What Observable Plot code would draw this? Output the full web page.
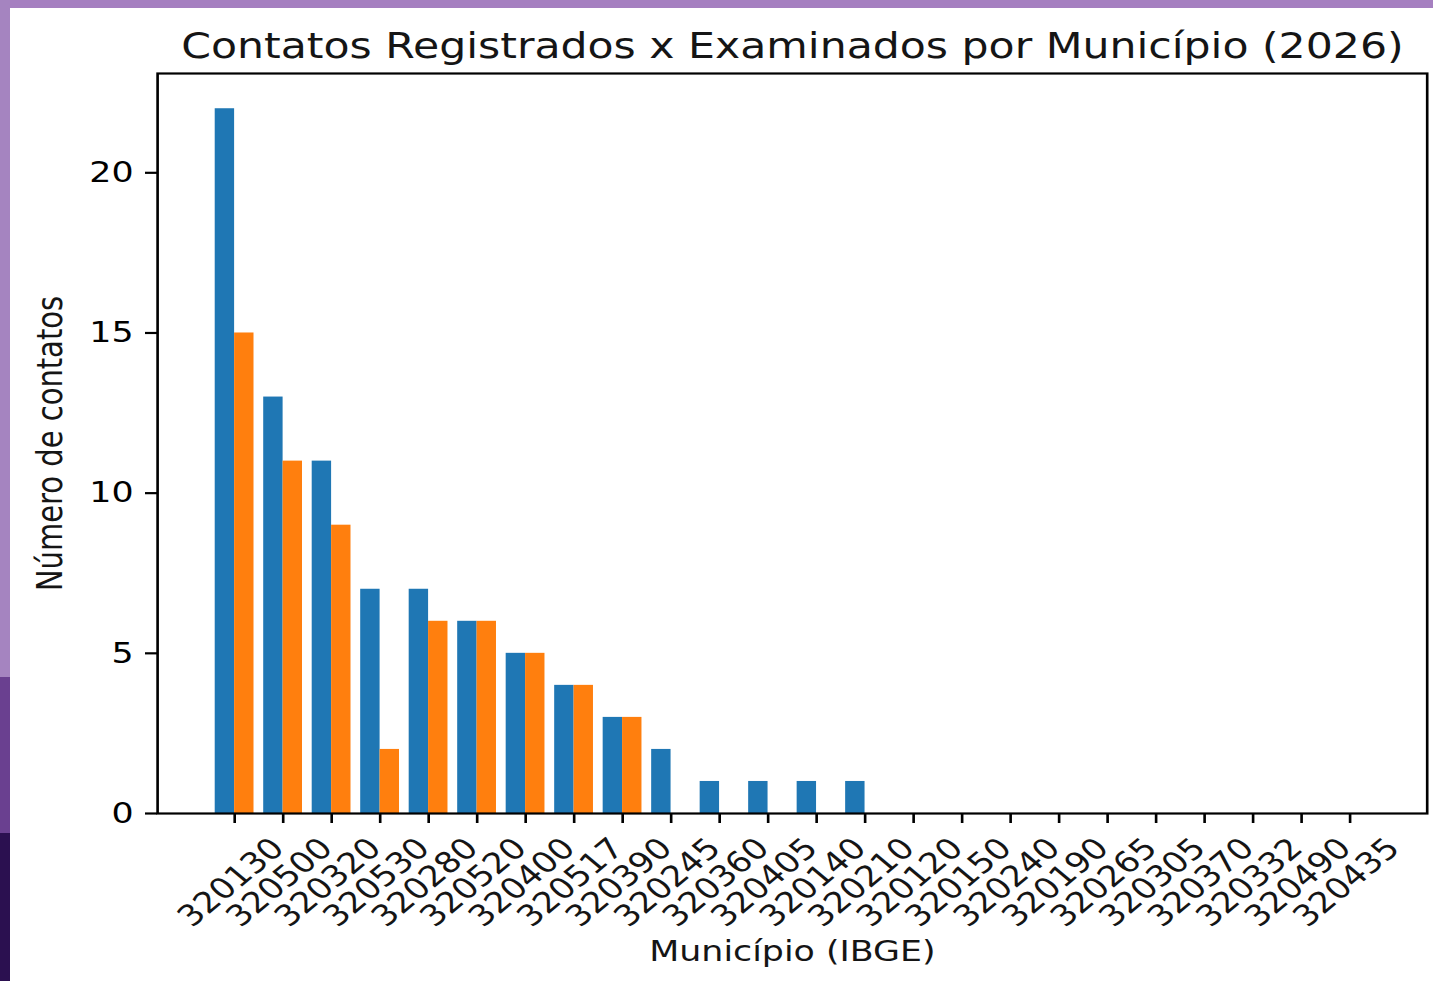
<!DOCTYPE html>
<html>
<head>
<meta charset="utf-8">
<script src="https://cdn.jsdelivr.net/npm/d3@7"></script>
<script src="https://cdn.jsdelivr.net/npm/@observablehq/plot@0.6"></script>
<style>
html, body { margin: 0; padding: 0; background: #fff; }
#page { position: relative; width: 1433px; height: 981px; overflow: hidden; background: #fff; }
.band { position: absolute; }
#chart { position: absolute; left: 10px; top: 8px; transform-origin: 0 0; transform: scaleX(1.2); }
#chart svg { overflow: visible; }
</style>
</head>
<body>
<div id="page">
  <div class="band" style="left:0;top:0;width:1433px;height:8px;background:#a57fc0"></div>
  <div class="band" style="left:0;top:0;width:10px;height:677px;background:#a584c0"></div>
  <div class="band" style="left:0;top:677px;width:10px;height:156px;background:#6a4090"></div>
  <div class="band" style="left:0;top:833px;width:10px;height:148px;background:#2b1050"></div>
  <div id="chart"></div>
</div>
<script>
// ---- data ----
const municipios = ["320130", "320500", "320320", "320530", "320280", "320520", "320400", "320517",
  "320390", "320245", "320360", "320405", "320140", "320210", "320120", "320150", "320240",
  "320190", "320265", "320305", "320370", "320332", "320490", "320435"];
const registrados = [22, 13, 11, 7, 7, 6, 5, 4, 3, 2, 1, 1, 1, 1, 0, 0, 0, 0, 0, 0, 0, 0, 0, 0];
const examinados  = [15, 11, 9, 2, 6, 6, 5, 4, 3, 0, 0, 0, 0, 0, 0, 0, 0, 0, 0, 0, 0, 0, 0, 0];
const yTicks = [0, 5, 10, 15, 20];
const titulo = "Contatos Registrados x Examinados por Município (2026)";
const xLabel = "Município (IBGE)";
const yLabel = "Número de contatos";

// ---- tables ----
const idx = municipios.map((_, i) => i);
const regData = municipios.map((m, i) => ({i, m, v: registrados[i]}));
const exaData = municipios.map((m, i) => ({i, m, v: examinados[i]}));

const W = 1186, H = 973;
const plot = Plot.plot({
  width: W,
  height: H,
  marginLeft: 122.5,
  marginRight: 5.5,
  marginTop: 65,
  marginBottom: 168,
  style: {fontFamily: "DejaVu Sans", fontSize: "29px", color: "#000", background: "transparent", overflow: "visible"},
  x: {type: "linear", domain: [-1.59, 24.59]},
  y: {domain: [0, 23.1]},
  marks: [
    Plot.rect(regData, {x1: d => d.i - 0.4, x2: d => d.i, y1: 0, y2: "v", fill: "#1f77b4"}),
    Plot.rect(exaData, {x1: d => d.i, x2: d => d.i + 0.4, y1: 0, y2: "v", fill: "#ff7f0e"}),
    Plot.axisY({ticks: yTicks, tickSize: 10, tickPadding: 10, label: null, strokeWidth: 2.2}),
    Plot.axisX({ticks: idx, tickSize: 10, tickFormat: () => "", label: null, strokeWidth: 2.2}),
    Plot.text(idx, {x: d => d, text: d => municipios[d], frameAnchor: "bottom", dy: 69, dx: -3,
      rotate: -45, textAnchor: "middle", lineAnchor: "middle", fill: "#151515"}),
    Plot.frame({stroke: "#000", strokeWidth: 2.2}),
    Plot.text([titulo], {frameAnchor: "top", lineAnchor: "bottom", textAnchor: "middle", dy: -16, fontSize: 35.5, fill: "#151515"}),
    Plot.text([xLabel], {frameAnchor: "bottom", lineAnchor: "bottom", textAnchor: "middle", dy: 147, fill: "#151515"}),
    Plot.text([yLabel], {frameAnchor: "left", rotate: -90, dx: -89, textAnchor: "middle", lineAnchor: "middle", fill: "#151515"})
  ]
});
document.getElementById("chart").appendChild(plot);
</script>
</body>
</html>
